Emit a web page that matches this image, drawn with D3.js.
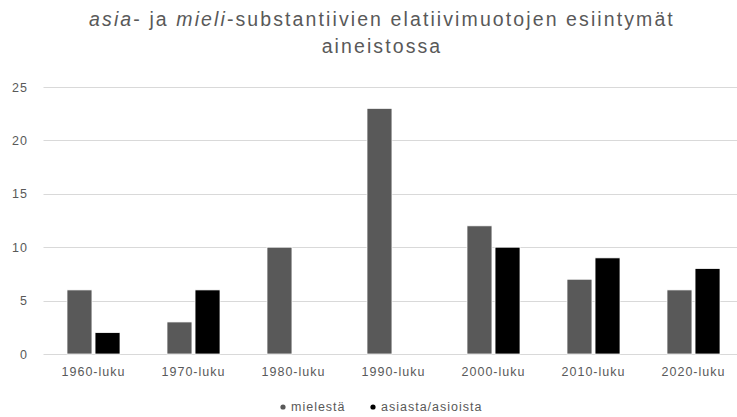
<!DOCTYPE html>
<html>
<head>
<meta charset="utf-8">
<script src="https://cdn.jsdelivr.net/npm/d3@7"></script>
<style>
  html, body { margin: 0; padding: 0; background: #fff; }
  svg { display: block; font-family: "Liberation Sans", Arial, sans-serif; }
</style>
</head>
<body>
<svg id="chart" width="737" height="417"></svg>
<script>
// Decades on the category axis
const categories = ["1960-luku", "1970-luku", "1980-luku", "1990-luku", "2000-luku", "2010-luku", "2020-luku"];
// Occurrence counts per decade
const mielesta = [6, 3, 10, 23, 12, 7, 6];
const asiasta = [2, 6, 0, 0, 10, 9, 8];
const seriesNames = ["mielestä", "asiasta/asioista"];
const seriesColors = ["#595959", "#000000"];
const yTicks = [0, 5, 10, 15, 20, 25];

const svg = d3.select("#chart");
const W = 737, H = 417;

const x0 = d3.scaleBand().domain(categories).range([43.5, 743.5]).padding(0);
const groupW = 53;
const x1 = d3.scaleBand().domain(seriesNames)
  .range([x0.bandwidth() / 2 - groupW / 2, x0.bandwidth() / 2 + groupW / 2])
  .paddingInner(0.11);
const y = d3.scaleLinear().domain([0, 25]).range([354, 87]);
const color = d3.scaleOrdinal().domain(seriesNames).range(seriesColors);

// Title (two lines, first words italic)
const title = svg.append("text")
  .attr("text-anchor", "middle")
  .attr("fill", "#595959")
  .style("font-size", "19.5px")
  .style("letter-spacing", "2.1px");
const l1 = title.append("tspan").attr("x", 382).attr("y", 26);
l1.append("tspan").style("font-style", "italic").text("asia");
l1.append("tspan").text("- ja ");
l1.append("tspan").style("font-style", "italic").text("mieli");
l1.append("tspan").text("-substantiivien elatiivimuotojen esiintymät");
title.append("tspan").attr("x", 382).attr("y", 53).text("aineistossa");

// Horizontal gridlines
svg.append("g")
  .selectAll("line")
  .data(yTicks)
  .join("line")
  .attr("x1", 43.5).attr("x2", W)
  .attr("y1", d => Math.round(y(d)) + 0.5)
  .attr("y2", d => Math.round(y(d)) + 0.5)
  .attr("stroke", "#d9d9d9")
  .attr("stroke-width", 1);

const labelFont = sel => sel
  .attr("fill", "#595959")
  .style("font-size", "12.5px")
  .style("letter-spacing", "1px")
  .style("font-family", "Liberation Sans, Arial, sans-serif");

// Y axis labels
const yAxis = d3.axisLeft(y).tickValues(yTicks).tickSize(0).tickPadding(0);
const gy = svg.append("g").attr("transform", "translate(28,0)").call(yAxis);
gy.select(".domain").remove();
gy.selectAll("text").call(labelFont);

// Bars
const rows = categories.map((c, i) => ({ cat: c, vals: [mielesta[i], asiasta[i]] }));
svg.append("g")
  .selectAll("g")
  .data(rows)
  .join("g")
  .attr("transform", d => `translate(${x0(d.cat)},0)`)
  .selectAll("rect")
  .data(d => d.vals.map((v, j) => ({ key: seriesNames[j], v })))
  .join("rect")
  .filter(d => d.v > 0)
  .attr("x", d => x1(d.key))
  .attr("width", x1.bandwidth())
  .attr("y", d => y(d.v))
  .attr("height", d => y(0) - y(d.v))
  .attr("fill", d => color(d.key))
  .attr("stroke", "#ffffff")
  .attr("stroke-width", 0.75);

// X axis labels
const xAxis = d3.axisBottom(x0).tickSize(0).tickPadding(0);
const gx = svg.append("g").attr("transform", "translate(0,367)").call(xAxis);
gx.select(".domain").remove();
gx.selectAll("text").call(labelFont);

// Legend
const legend = svg.append("g").attr("transform", "translate(0,407)");
const legendX = [283, 373];
seriesNames.forEach((s, i) => {
  legend.append("circle").attr("cx", legendX[i]).attr("cy", 0).attr("r", 2.6).attr("fill", color(s));
  legend.append("text").attr("x", legendX[i] + 8).attr("y", 4)
    .call(labelFont).text(s);
});
</script>
</body>
</html>
